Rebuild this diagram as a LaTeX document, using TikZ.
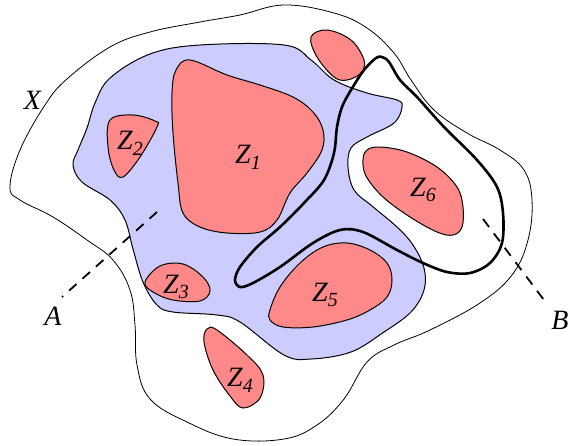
\documentclass[tikz,border=0pt]{standalone}
\usepackage{fontspec}
\setmainfont{Liberation Serif}
\usepackage{tikz}
\usetikzlibrary{positioning}
\definecolor{zonered}{HTML}{FF8888}
\definecolor{zoneblue}{HTML}{CCCCFF}
\tikzset{
  outerline/.style = {draw=black, line width=0.4pt, fill=white},
  bluearea/.style  = {draw=black, line width=0.5pt, fill=zoneblue},
  redzone/.style   = {draw=black, line width=0.5pt, fill=zonered},
  loopline/.style  = {draw=black, line width=1.3pt, line join=round},
  cutline/.style   = {draw=black, line width=0.9pt, dash pattern=on 5pt off 4pt},
  zlabel/.style    = {font=\fontsize{14}{16}\selectfont, inner sep=1pt},
}
\newcommand{\zname}[1]{\textit{Z}\raisebox{-0.45ex}{\fontsize{10}{12}\selectfont\textit{#1}}}

\begin{document}
\begin{tikzpicture}[x=0.5pt, y=-0.5pt]
    \useasboundingbox (0,0) rectangle (568,445);
    % space X
    \draw[outerline] plot[smooth cycle, tension=0.65] coordinates {
      (284,5) (334,13) (367,28) (394,53) (411,80) (434,110) (467,133)
      (500,150) (524,170) (532,200) (528,240) (512,275) (480,303)
      (430,330) (394,345) (367,362) (344,399) (317,425) (284,439)
      (233,439) (187,422) (150,399) (137,365) (135,325) (130,290)
      (113,260) (87,240) (53,217) (20,200) (10,187) (20,150) (45,105)
      (67,79) (110,47) (150,32) (200,22) (240,15)};
    % blue region
    \draw[bluearea] plot[smooth cycle, tension=0.6] coordinates {
      (284,45) (311,60) (334,80) (367,93) (397,100) (402,107) (394,123)
      (367,137) (351,148) (348,167) (354,190) (372,206) (397,227)
      (413,245) (424,268) (424,290) (411,312) (384,332) (351,352)
      (311,359) (284,355) (240,322) (217,315) (173,312) (157,305)
      (143,282) (133,249) (125,220) (110,200) (82,182) (73,165) (78,150)
      (87,128) (95,103) (110,78) (150,54) (200,45)};
    % zones
    \draw[redzone] plot[smooth cycle, tension=0.6] coordinates {
      (190,60) (227,75) (260,85) (293,97) (313,112) (323,130) (322,150)
      (307,173) (290,193) (277,220) (260,232) (227,233) (200,227)
      (183,213) (178,183) (173,133) (172,93) (176,70)};
    \draw[redzone] plot[smooth cycle, tension=0.6] coordinates {
      (110,120) (133,115) (155,121) (157,127) (140,157) (123,177)
      (114,170) (108,147)};
    \draw[redzone] plot[smooth cycle, tension=0.6] coordinates {
      (145,282) (160,266) (183,264) (203,277) (210,291) (200,301)
      (173,300) (153,292)};
    \draw[redzone] plot[smooth cycle, tension=0.6] coordinates {
      (207,329) (217,330) (247,355) (263,375) (260,398) (243,408)
      (230,396) (213,370) (204,342)};
    \draw[redzone] plot[smooth cycle, tension=0.6] coordinates {
      (270,310) (280,287) (300,263) (323,247) (347,243) (370,250)
      (387,263) (392,280) (387,297) (370,310) (347,320) (313,327)
      (283,327) (270,320)};
    \draw[redzone] plot[smooth cycle, tension=0.6] coordinates {
      (367,150) (380,147) (407,152) (437,167) (457,187) (463,207)
      (462,227) (453,235) (437,232) (410,217) (383,197) (366,176)
      (363,160)};
    \draw[redzone] plot[smooth cycle, tension=0.6] coordinates {
      (311,37) (327,30) (351,40) (364,60) (361,73) (347,80) (334,77)
      (317,57)};
    % path
    \draw[loopline] plot[smooth cycle, tension=0.55] coordinates {
      (382,57) (389,62) (400,80) (417,97) (444,127) (477,160) (497,187)
      (503,213) (502,243) (490,263) (470,273) (447,272) (423,263)
      (397,250) (363,232) (340,230) (313,243) (280,267) (253,283)
      (240,287) (235,280) (240,267) (257,247) (280,227) (304,203)
      (324,180) (334,153) (337,127) (342,107) (351,90) (364,70) (376,58)};
    % cuts
    \coordinate (a1) at (157,212);
    \coordinate (a2) at (62,297);
    \coordinate (b1) at (483,219);
    \coordinate (b2) at (544,300);
    \draw[cutline] (a1) -- (a2);
    \draw[cutline] (b1) -- (b2);
    \node[zlabel] (X) at (33,100) {\textit{X}};
    \node[zlabel] (A) at (53,316) {\textit{A}};
    \node[zlabel] (B) at (560,320) {\textit{B}};
    \node[zlabel] (z1) at (248,157) {\zname{1}};
    \node[zlabel] (z2) at (130,143) {\zname{2}};
    \node[zlabel] (z3) at (176,287) {\zname{3}};
    \node[zlabel] (z4) at (240,380) {\zname{4}};
    \node[zlabel] (z5) at (325,295) {\zname{5}};
    \node[zlabel] (z6) at (423,190) {\zname{6}};
  \end{tikzpicture}
\end{document}
